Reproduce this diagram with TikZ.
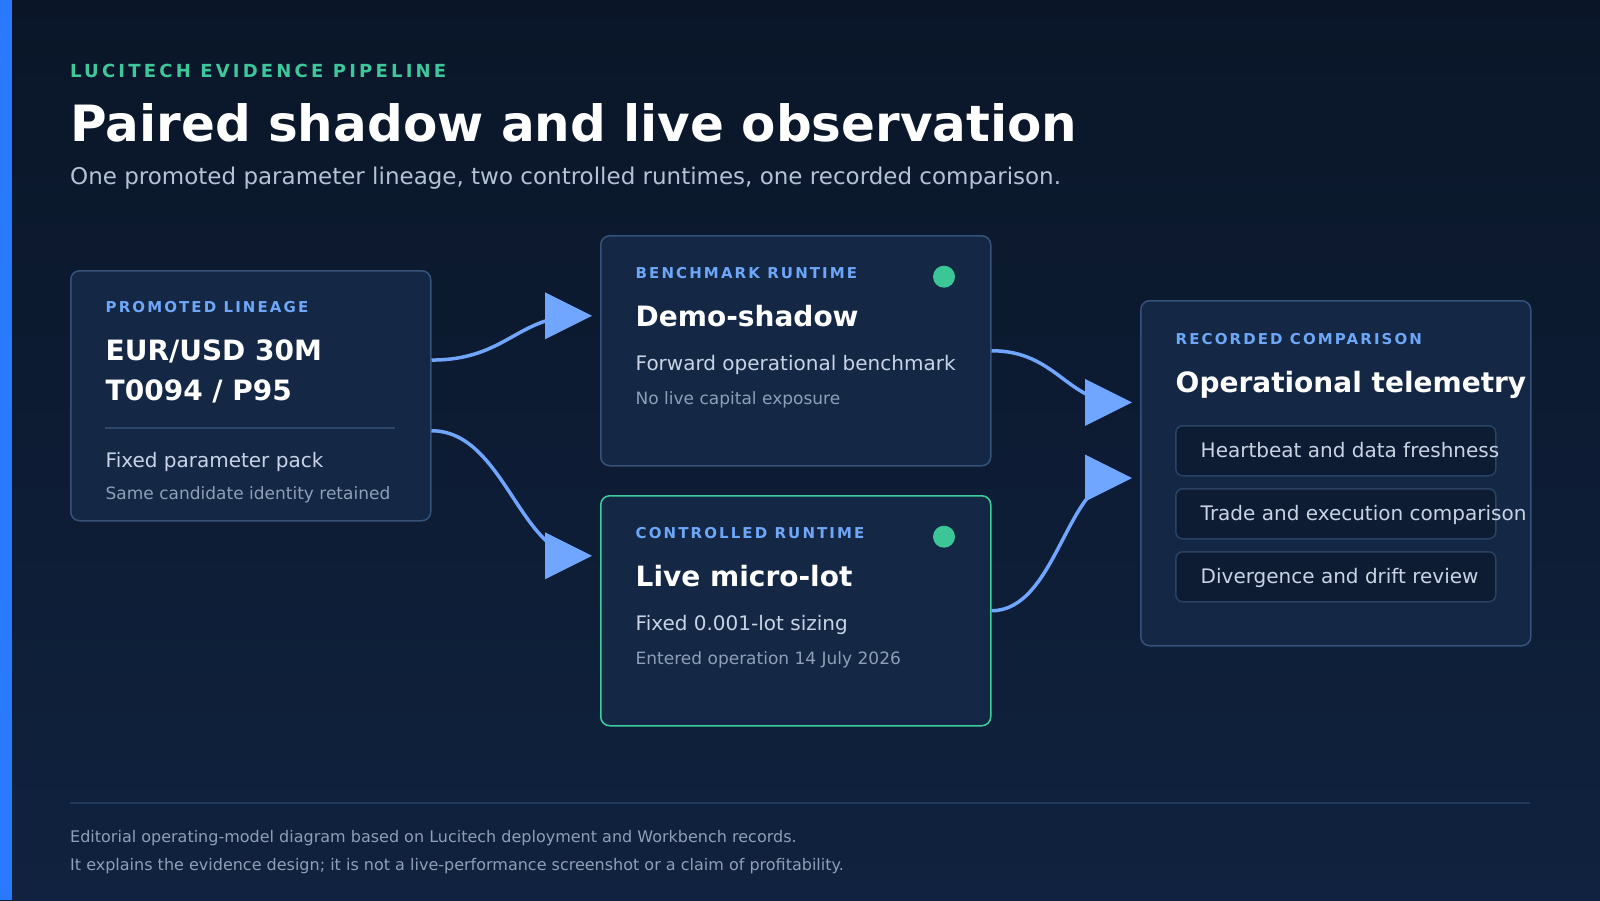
\documentclass[tikz,border=0pt]{standalone}
\usepackage{fontspec}
\setmainfont{DejaVu Sans}
\usetikzlibrary{arrows.meta,calc}
\definecolor{bgtop}{HTML}{0A1628}
\definecolor{bgbot}{HTML}{10223F}
\definecolor{accentbar}{HTML}{2A7AFF}
\definecolor{cardfill}{HTML}{142845}
\definecolor{cardline}{HTML}{34527A}
\definecolor{livegreen}{HTML}{3CCF9C}
\definecolor{dotgreen}{HTML}{3CC698}
\definecolor{eyebrow}{HTML}{3EC79B}
\definecolor{labelblue}{HTML}{6EA6F8}
\definecolor{arrowblue}{HTML}{70A6FF}
\definecolor{bodytext}{HTML}{C8D4E6}
\definecolor{smalltext}{HTML}{8E9FB7}
\definecolor{subtext}{HTML}{B4C2D6}
\definecolor{rowfill}{HTML}{0E1C33}
\definecolor{rowline}{HTML}{2A4364}
\definecolor{footline}{HTML}{223B5C}
\definecolor{divline}{HTML}{2E4668}
\newcommand{\fsz}[1]{\fontsize{#1}{#1}\selectfont}
\begin{document}
\begin{tikzpicture}[x=1pt,y=-1pt,
  txt/.style={inner sep=0pt, anchor=base west},
  card/.style={draw=cardline, fill=cardfill, line width=1.5pt, rounded corners=9pt, inner sep=0pt, anchor=north west},
  livecard/.style={card, draw=livegreen},
  rowbox/.style={draw=rowline, fill=rowfill, line width=1.5pt, rounded corners=7pt, inner sep=0pt, anchor=north west, minimum width=320pt, minimum height=50pt},
  dot/.style={circle, fill=dotgreen, minimum size=22pt, inner sep=0pt},
  cardlabel/.style={txt, text=labelblue, font=\fsz{15}\bfseries\addfontfeature{LetterSpace=14}},
  cardtitle/.style={txt, text=white, font=\fsz{28}\bfseries},
  cardbody/.style={txt, text=bodytext, font=\fsz{20}},
  cardsmall/.style={txt, text=smalltext, font=\fsz{17}},
  connline/.style={draw=arrowblue, line width=3.5pt, shorten >=12pt},
  tiphead/.style={fill=arrowblue}
]
\useasboundingbox (0,0) rectangle (1600,900);
\shade[top color=bgtop, bottom color=bgbot] (0,0) rectangle (1600,900);
\fill[accentbar] (0,0) rectangle (12,900);

% header
\node[txt, text=eyebrow, font=\fsz{18}\bfseries\addfontfeature{LetterSpace=17.8}] (eyebrow) at (70,77.5) {LUCITECH EVIDENCE PIPELINE};
\node[txt, text=white, font=\fsz{50}\bfseries] (title) at (70,141) {Paired shadow and live observation};
\node[txt, text=subtext, font=\fsz{23}] (subtitle) at (70,184.5) {One promoted parameter lineage, two controlled runtimes, one recorded comparison.};

% cards
\node[card, minimum width=360pt, minimum height=250pt] (lin) at (70,270) {};
\node[card, minimum width=390pt, minimum height=230pt] (demo) at (600,235) {};
\node[livecard, minimum width=390pt, minimum height=230pt] (live) at (600,495) {};
\node[card, minimum width=390pt, minimum height=345pt] (rec) at (1140,300) {};

% promoted lineage
\node[cardlabel] (linlab) at (105.5,312.3) {PROMOTED LINEAGE};
\node[cardtitle] (lint1) at (105.5,360) {EUR/USD 30M};
\node[cardtitle] (lint2) at (105.5,400) {T0094 / P95};
\draw[divline, line width=1.5pt] (105,428) -- (395,428);
\node[cardbody] (linb) at (105.5,467.3) {Fixed parameter pack};
\node[cardsmall] (lins) at (105.5,499.3) {Same candidate identity retained};

% demo-shadow
\node[cardlabel] (demolab) at (635.5,278.3) {BENCHMARK RUNTIME};
\node[dot] (demodot) at (944,276.7) {};
\node[cardtitle] (demot) at (635.5,326.7) {Demo-shadow};
\node[cardbody] (demob) at (635.5,370) {Forward operational benchmark};
\node[cardsmall] (demos) at (635.5,404) {No live capital exposure};

% live micro-lot
\node[cardlabel] (livelab) at (635.5,538.3) {CONTROLLED RUNTIME};
\node[dot] (livedot) at (944,536.7) {};
\node[cardtitle] (livet) at (635.5,586.7) {Live micro-lot};
\node[cardbody] (liveb) at (635.5,630) {Fixed 0.001-lot sizing};
\node[cardsmall] (lives) at (635.5,664) {Entered operation 14 July 2026};

% recorded comparison
\node[cardlabel] (reclab) at (1175.5,344) {RECORDED COMPARISON};
\node[cardtitle] (rect) at (1175.5,392.7) {Operational telemetry};
\node[rowbox] (row1) at (1175,425) {};
\node[rowbox] (row2) at (1175,488) {};
\node[rowbox] (row3) at (1175,551) {};
\node[cardbody] (row1t) at (1200.5,457.5) {Heartbeat and data freshness};
\node[cardbody] (row2t) at (1200.5,520.5) {Trade and execution comparison};
\node[cardbody] (row3t) at (1200.5,583.5) {Divergence and drift review};

% connectors
\coordinate (ls1) at ($(lin.east)+(0,-35.7)$);
\coordinate (ls2) at ($(lin.east)+(0,35)$);
\coordinate (dt) at ($(demo.west)+(-8,-35)$);
\coordinate (lt) at ($(live.west)+(-8,-55)$);
\coordinate (rt1) at ($(rec.west)+(-8,-70.8)$);
\coordinate (rt2) at ($(rec.west)+(-8,4.8)$);
\draw[connline] (ls1) .. controls +(75,0) and +(-75,0) .. (dt);
\draw[connline] (ls2) .. controls +(72,0) and +(-72,0) .. (lt);
\draw[connline] (demo.east) .. controls +(65,0) and +(-65,0) .. (rt1);
\draw[connline] (live.east) .. controls +(65,0) and +(-65,0) .. (rt2);
\foreach \t in {dt,lt,rt1,rt2}
  \fill[tiphead] (\t) -- ++(-47,-23.5) -- ++(0,47) -- cycle;

% footer
\draw[footline, line width=2pt] (70,803) -- (1530,803);
\node[txt, text=smalltext, font=\fsz{16}] (foot1) at (70,842) {Editorial operating-model diagram based on Lucitech deployment and Workbench records.};
\node[txt, text=smalltext, font=\fsz{16}] (foot2) at (70,870) {It explains the evidence design; it is not a live-performance screenshot or a claim of profitability.};
\end{tikzpicture}
\end{document}
